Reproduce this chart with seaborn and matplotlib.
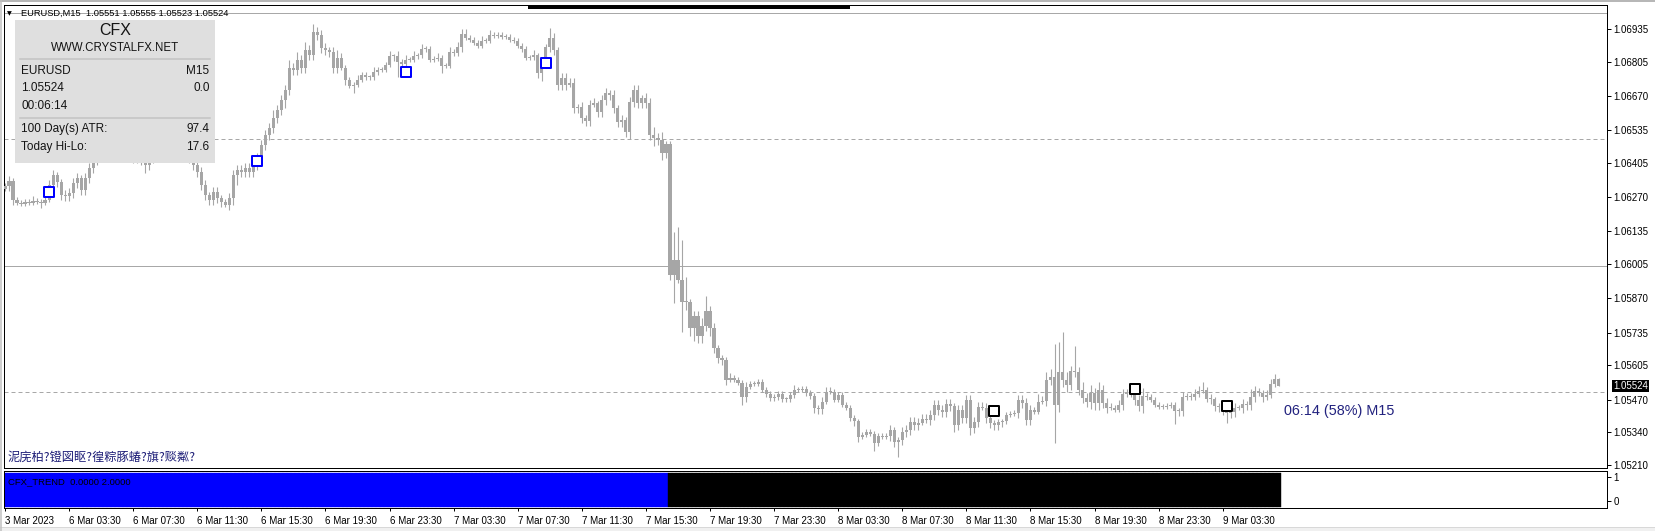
import numpy as np
import pandas as pd
import matplotlib
matplotlib.use("Agg")
import matplotlib.pyplot as plt
import matplotlib.transforms as mtrans
from matplotlib.patches import Rectangle
from matplotlib.lines import Line2D
import seaborn as sns

# ---------------- data ----------------
first_open = 1.06305
closes = [
1.06315,1.06335,1.06260,1.06248,1.06244,1.06252,1.06248,1.06256,1.06252,1.06248,
1.06260,1.06319,1.06359,1.06331,1.06280,1.06276,1.06287,1.06327,1.06347,1.06299,
1.06347,1.06386,1.06418,1.06438,1.06458,1.06450,1.06465,1.06458,1.06438,1.06450,
1.06458,1.06442,1.06426,1.06438,1.06418,1.06398,1.06426,1.06450,1.06465,1.06477,
1.06465,1.06458,1.06469,1.06458,1.06450,1.06438,1.06426,1.06398,1.06371,1.06319,
1.06280,1.06260,1.06291,1.06268,1.06252,1.06240,1.06268,1.06359,1.06378,1.06371,
1.06386,1.06371,1.06398,1.06426,1.06477,1.06517,1.06545,1.06584,1.06616,1.06655,
1.06695,1.06782,1.06774,1.06814,1.06782,1.06853,1.06833,1.06924,1.06913,1.06861,
1.06853,1.06845,1.06782,1.06822,1.06782,1.06735,1.06711,1.06715,1.06735,1.06754,
1.06746,1.06746,1.06766,1.06774,1.06774,1.06794,1.06829,1.06829,1.06806,1.06798,
1.06814,1.06814,1.06829,1.06833,1.06857,1.06857,1.06814,1.06818,1.06822,1.06790,
1.06790,1.06845,1.06841,1.06865,1.06916,1.06901,1.06893,1.06881,1.06869,1.06889,
1.06889,1.06913,1.06909,1.06913,1.06905,1.06905,1.06893,1.06889,1.06869,1.06857,
1.06822,1.06825,1.06833,1.06762,1.06806,1.06865,1.06901,1.06853,1.06715,1.06742,
1.06715,1.06723,1.06624,1.06628,1.06584,1.06572,1.06636,1.06643,1.06608,1.06655,
1.06683,1.06675,1.06624,1.06568,1.06576,1.06529,1.06647,1.06695,1.06643,1.06663,
1.06643,1.06517,1.06505,1.06497,1.06446,1.06481,1.05963,1.06022,1.05943,1.05856,
1.05856,1.05753,1.05801,1.05722,1.05761,1.05821,1.05753,1.05674,1.05635,1.05627,
1.05548,1.05556,1.05548,1.05536,1.05480,1.05520,1.05532,1.05532,1.05540,1.05508,
1.05492,1.05476,1.05480,1.05492,1.05472,1.05472,1.05488,1.05508,1.05508,1.05512,
1.05496,1.05484,1.05437,1.05433,1.05461,1.05500,1.05500,1.05469,1.05488,1.05449,
1.05437,1.05397,1.05385,1.05322,1.05330,1.05342,1.05334,1.05298,1.05326,1.05322,
1.05326,1.05350,1.05302,1.05310,1.05342,1.05350,1.05382,1.05370,1.05378,1.05393,
1.05389,1.05409,1.05449,1.05429,1.05421,1.05453,1.05445,1.05370,1.05429,1.05397,
1.05469,1.05358,1.05382,1.05441,1.05437,1.05397,1.05378,1.05370,1.05382,1.05385,
1.05409,1.05413,1.05417,1.05469,1.05457,1.05389,1.05429,1.05421,1.05461,1.05465,
1.05548,1.05560,1.05449,1.05579,1.05548,1.05528,1.05583,1.05579,1.05508,1.05476,
1.05461,1.05496,1.05457,1.05508,1.05457,1.05437,1.05437,1.05429,1.05449,1.05492,
1.05492,1.05496,1.05469,1.05445,1.05484,1.05480,1.05469,1.05449,1.05441,1.05441,
1.05445,1.05449,1.05425,1.05425,1.05480,1.05484,1.05480,1.05492,1.05504,1.05508,
1.05472,1.05472,1.05445,1.05441,1.05429,1.05417,1.05421,1.05437,1.05437,1.05453,
1.05449,1.05480,1.05504,1.05496,1.05480,1.05488,1.05530,1.05551,1.05524,
]
# wick lengths above / below the body, in pips
wick_up = [
1,2,1,1,1,1,1,2,1,1, 2,2,2,1,1,2,2,2,2,1,
2,2,2,2,2,1,2,2,1,2, 2,2,1,2,2,3,2,2,2,2,
2,2,2,2,2,2,2,2,2,2, 2,1,2,2,1,1,2,2,2,2,
2,2,2,2,2,2,2,3,2,2, 2,3,2,3,2,3,2,3,2,2,
2,1,2,3,2,1,1,1,2,1, 1,1,2,1,1,1,2,1,2,1,
2,1,2,1,2,1,1,1,2,1, 1,2,1,2,2,2,1,1,1,2,
1,2,1,1,1,1,1,1,1,1, 1,1,2,1,2,1,4,2,1,2,
2,2,2,1,2,1,2,2,1,2, 2,1,2,1,2,1,2,2,2,1,
2,2,3,2,3,1,1,11,13,16, 10,1,2,2,3,6,2,2,1,1,
1,2,1,1,1,2,1,1,1,1, 1,1,1,1,1,1,1,2,1,1,
1,1,1,1,2,2,2,1,1,1, 1,1,1,1,1,1,1,1,1,1,
1,2,1,1,2,2,2,2,2,2, 2,2,2,2,2,2,2,1,2,2,
2,2,2,2,2,2,2,1,1,1, 1,1,1,2,2,2,2,1,3,2,
3,3,13,12,16,3,2,10,2,3, 2,3,2,3,2,2,2,1,2,2,
2,2,2,2,3,1,1,1,1,1, 1,1,1,1,2,1,1,2,2,3,
1,2,1,1,1,2,2,2,1,2, 1,3,2,1,1,2,2,2,0.4,
]
wick_dn = [
1,2,2,1,1,1,1,1,1,2, 1,1,2,2,2,2,2,2,2,2,
2,2,2,2,2,2,2,2,2,2, 2,2,2,2,2,3,2,2,2,2,
2,2,2,2,2,2,2,2,2,2, 2,2,2,2,2,1,2,3,4,2,
2,2,2,2,2,2,2,2,2,2, 3,2,2,2,2,2,2,2,2,2,
2,2,2,2,1,2,1,3,1,1, 1,1,1,1,1,1,1,2,6,1,
1,1,1,1,1,1,1,1,1,3, 1,1,1,1,2,1,1,1,1,1,
1,1,1,1,1,1,1,1,1,1, 1,1,1,2,3,1,2,2,2,2,
2,1,2,2,2,2,2,1,2,2, 2,2,2,2,2,2,3,2,2,2,
2,2,3,2,3,2,2,11,1,12, 3,3,5,3,3,2,3,2,2,2,
2,1,1,1,3,2,1,1,1,1, 1,1,1,1,1,1,1,1,1,1,
1,1,2,2,2,1,1,1,1,1, 1,1,2,2,1,1,1,3,1,1,
1,2,2,6,2,2,2,2,2,1, 1,2,2,2,2,2,2,3,2,2,
2,3,2,2,1,2,2,2,2,2, 1,1,1,2,2,2,2,1,1,1,
2,2,15,3,3,3,2,2,2,2, 2,3,3,3,2,2,1,1,1,2,
1,1,2,2,3,1,1,1,1,1, 1,1,5,2,2,1,1,1,1,1,
1,2,2,2,2,4,2,2,1,2, 2,2,2,1,2,1,1,1,0.1,
]
buy_bars = [11, 63, 100, 135]
buy_prices = [1.06293, 1.06414, 1.06766, 1.06801]
sell_bars = [247, 282, 305]
sell_prices = [1.05425, 1.05512, 1.05445]
h_solid = [1.0700, 1.0600]
h_dashed = [1.0650, 1.0550]
price_ticks = [1.06935, 1.06805, 1.06670, 1.06535, 1.06405, 1.06270, 1.06135,
               1.06005, 1.05870, 1.05735, 1.05605, 1.05470, 1.05340, 1.05210]
time_labels = ["3 Mar 2023", "6 Mar 03:30", "6 Mar 07:30", "6 Mar 11:30", "6 Mar 15:30",
               "6 Mar 19:30", "6 Mar 23:30", "7 Mar 03:30", "7 Mar 07:30", "7 Mar 11:30",
               "7 Mar 15:30", "7 Mar 19:30", "7 Mar 23:30", "8 Mar 03:30", "8 Mar 07:30",
               "8 Mar 11:30", "8 Mar 15:30", "8 Mar 19:30", "8 Mar 23:30", "9 Mar 03:30"]
bars_per_label = 16
trend_up_last = 165   # CFX_TREND: up (blue) through this bar, down (black) afterwards
bid = 1.05524
panel_rows = [("EURUSD", "M15"), ("1.05524", "0.0"), ("00:06:14", "")]
panel_rows2 = [("100 Day(s) ATR:", "97.4"), ("Today Hi-Lo:", "17.6")]

assert len(closes) == len(wick_up) == len(wick_dn)

# ---------------- style ----------------
sns.set_theme(style="white")
plt.rcParams['font.family'] = ['Liberation Sans', 'DejaVu Sans']
plt.rcParams['lines.scale_dashes'] = False

W, H = 1655, 531
fig = plt.figure(figsize=(W / 100, H / 100), dpi=100)
fig.patch.set_facecolor("white")
def fx(x): return x / W
def fy(y): return 1 - y / H
PX = 0.72  # one pixel in points

L, R = 3.6, 1607.3
ax = fig.add_axes([fx(L), fy(468.3), fx(R) - fx(L), fy(5) - fy(468.3)])
sub = fig.add_axes([fx(L), fy(508.3), fx(R) - fx(L), fy(470.7) - fy(508.3)])

CANDLE = "#A6A6A6"
GRID = "#A8A8A8"

n = len(closes)
x = np.arange(n)
c = np.array(closes)
o = np.array([first_open] + closes[:-1])
hi = np.maximum(o, c) + np.array(wick_up) * 1e-4
lo = np.minimum(o, c) - np.array(wick_dn) * 1e-4

for lvl in h_solid:
    ax.axhline(lvl, color=GRID, lw=PX, zorder=1)
for lvl in h_dashed:
    ax.axhline(lvl, color=GRID, lw=PX, ls=(0, (4 * PX, 3 * PX)), zorder=1)

ax.vlines(x, lo, hi, color=CANDLE, linewidth=1.1 * PX, zorder=2)
body_bot = np.minimum(o, c)
body_h = np.maximum(np.abs(c - o), 0.00004)
ax.bar(x, body_h, bottom=body_bot, width=0.78, color=CANDLE, linewidth=0, zorder=3)

sns.scatterplot(x=buy_bars, y=buy_prices, ax=ax, marker="s", s=56, color="white",
                edgecolor="#0000FF", linewidth=2 * PX, zorder=5, legend=False)
sns.scatterplot(x=sell_bars, y=sell_prices, ax=ax, marker="s", s=56, color="white",
                edgecolor="black", linewidth=2 * PX, zorder=5, legend=False)

xmin, xmax = -0.35, 400.0
ax.set_xlim(xmin, xmax)
ax.set_ylim(1.05198, 1.07031)
ax.set_xticks([])
ax.yaxis.tick_right()
ax.set_yticks(price_ticks)
ax.set_yticklabels([f"{v:.5f}" for v in price_ticks])
ax.tick_params(axis="y", direction="out", length=3, width=PX, pad=1.5,
               labelsize=7, colors="black", right=True, left=False)
for sp in ax.spines.values():
    sp.set_color("black"); sp.set_linewidth(PX)

# ---------------- sub window ----------------
up_x = x[x <= trend_up_last]
dn_x = x[x > trend_up_last]
sub.bar(up_x, 1.46, bottom=-0.28, width=1.0, color="#0000FF", edgecolor="#0000FF",
        linewidth=0.3, zorder=2)
sub.bar(dn_x, 1.46, bottom=-0.28, width=1.0, color="black", edgecolor="black",
        linewidth=0.3, zorder=2)
sub.set_xlim(xmin, xmax)
sub.set_ylim(-0.32, 1.266)
sub.yaxis.tick_right()
sub.set_yticks([0, 1])
sub.set_yticklabels(["0", "1"])
sub.tick_params(axis="y", direction="out", length=3, width=PX, pad=1.5,
                labelsize=7, colors="black", right=True, left=False)
tick_pos = np.arange(len(time_labels)) * bars_per_label
sub.set_xticks(tick_pos)
sub.set_xticklabels(time_labels, ha="left")
sub.tick_params(axis="x", direction="out", length=2.5, width=PX, pad=3,
                labelsize=7, colors="black", bottom=True)
for sp in sub.spines.values():
    sp.set_color("black"); sp.set_linewidth(PX)
sub.text(0.003, 0.72, "CFX_TREND  0.0000 2.0000", transform=sub.transAxes,
         fontsize=6.8, color="black", va="center", ha="left", zorder=5)

# ---------------- overlays ----------------
fig.text(fx(7), fy(13.5), "\u25BC", fontsize=4.5, va="center", ha="left",
         family=["DejaVu Sans"], color="black")
fig.text(fx(21), fy(13.5), "EURUSD,M15  1.05551 1.05555 1.05523 1.05524",
         fontsize=6.7, va="center", ha="left", color="black")
fig.add_artist(Rectangle((fx(528), fy(9)), fx(850) - fx(528), fy(5.7) - fy(9),
                         transform=fig.transFigure, facecolor="black", edgecolor="none", zorder=6))

# info panel
fig.add_artist(Rectangle((fx(15), fy(163)), fx(215) - fx(15), fy(20) - fy(163),
                         transform=fig.transFigure, facecolor="#DFDFDF", edgecolor="none", zorder=6))
for yy in (59, 117.7):
    fig.add_artist(Line2D([fx(20), fx(210)], [fy(yy), fy(yy)], transform=fig.transFigure,
                          color="#C9C9C9", lw=2 * PX, zorder=7))
TXT = "#141414"
fig.text(fx(115), fy(30.5), "CFX", fontsize=11.5, ha="center", va="center", color=TXT, zorder=8)
fig.text(fx(115), fy(48), "WWW.CRYSTALFX.NET", fontsize=8.3, ha="center", va="center",
         color=TXT, zorder=8)
for (lt, rt), yy in zip(panel_rows, (70.7, 88.3, 106)):
    fig.text(fx(21), fy(yy), lt, fontsize=8.5, ha="left", va="center", color=TXT, zorder=8)
    fig.text(fx(209.5), fy(yy), rt, fontsize=8.5, ha="right", va="center", color=TXT, zorder=8)
for (lt, rt), yy in zip(panel_rows2, (129, 146.7)):
    fig.text(fx(21), fy(yy), lt, fontsize=8.5, ha="left", va="center", color=TXT, zorder=8)
    fig.text(fx(209.5), fy(yy), rt, fontsize=8.5, ha="right", va="center", color=TXT, zorder=8)

# bid price label on the axis
ax.text(1.0035, bid, "1.05524", transform=mtrans.blended_transform_factory(ax.transAxes, ax.transData),
        fontsize=7, color="white", ha="left", va="center", clip_on=False, zorder=9,
        bbox=dict(facecolor="black", edgecolor="none", boxstyle="square,pad=0.12"))

# candle timer
fig.text(fx(1284), fy(411), "06:14 (58%) M15", fontsize=10.4, color="#22227F",
         ha="left", va="center")

# comment text at bottom left of main window
fig.text(fx(8), fy(457), "泥庑柏?镫図眍?徨粽豚蝽?旗?赕粼?", fontsize=8.8, color="#1E1E78",
         ha="left", va="center", family=["Noto Sans CJK SC", "DejaVu Sans"])

# window frame bits
fig.add_artist(Rectangle((0, 0), 1, fy(527), transform=fig.transFigure,
                         facecolor="#F0F0F0", edgecolor="none", zorder=0))
fig.add_artist(Line2D([0, 1], [fy(527), fy(527)], transform=fig.transFigure,
                      color="#D8D8D8", lw=PX, zorder=1))
fig.add_artist(Line2D([0, 1], [fy(0.8), fy(0.8)], transform=fig.transFigure,
                      color="#A0A0A0", lw=1.5 * PX, zorder=1))
fig.add_artist(Line2D([fx(0.8), fx(0.8)], [0, 1], transform=fig.transFigure,
                      color="#C0C0C0", lw=1.5 * PX, zorder=1))

fig.savefig("out.png", dpi=100)
